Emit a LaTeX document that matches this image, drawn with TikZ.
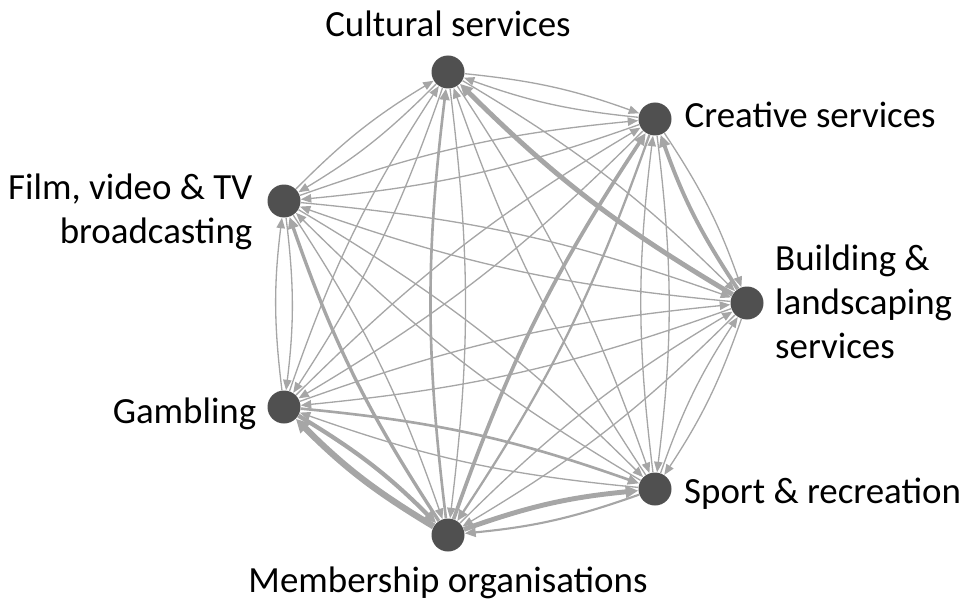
\documentclass[tikz,border=0pt]{standalone}
\usepackage{fontspec}
\setmainfont{Carlito}
\usepackage{tikz}
\usetikzlibrary{arrows.meta,positioning}
\definecolor{nodegray}{RGB}{80,80,80}
\definecolor{edgegray}{RGB}{166,166,166}

\begin{document}
\begin{tikzpicture}[
    vertex/.style={circle, fill=nodegray, draw=none, minimum size=0.66cm, inner sep=0pt},
    lbl/.style={font=\fontsize{21}{25}\selectfont, inner sep=0pt, text=black},
    link/.style={draw=edgegray, line width=#1, bend left=7,
                 -{Triangle[length=5.5pt 0.6, width=4pt 1]}},
    link/.default=0.75pt
]
\useasboundingbox (0,0) rectangle (19.32,-12.1);
% sectors
\node[vertex] (cult) at (8.96,-1.44) {};
\node[vertex] (creat) at (13.10,-2.38) {};
\node[vertex] (film) at (5.68,-4.02) {};
\node[vertex] (build) at (14.94,-6.06) {};
\node[vertex] (gamb) at (5.68,-8.14) {};
\node[vertex] (sport) at (13.10,-9.78) {};
\node[vertex] (memb) at (8.96,-10.70) {};
% labels
\node[lbl, above=0.37cm of cult] (cultlbl) {Cultural services};
\node[lbl, right=0.25cm of creat, yshift=0.08cm] (creatlbl) {Creative services};
\node[lbl, left=0.29cm of film, align=right, yshift=-0.22cm] (filmlbl) {Film, video \& TV\\broadcasting};
\node[lbl, right=0.22cm of build, align=left, yshift=0.03cm] (buildlbl) {Building \&\\landscaping\\services};
\node[lbl, left=0.21cm of gamb, yshift=-0.14cm] (gamblbl) {Gambling};
\node[lbl, right=0.24cm of sport, yshift=-0.1cm] (sportlbl) {Sport \& recreation};
\node[lbl, below=0.3cm of memb] (memblbl) {Membership organisations};
% flows, both ways
\draw[link] (cult) to (creat);  \draw[link] (creat) to (cult);
\draw[link] (cult) to (film);   \draw[link] (film) to (cult);
\draw[link] (cult) to (build);  \draw[link=2.8pt] (build) to (cult);
\draw[link] (cult) to (gamb);   \draw[link] (gamb) to (cult);
\draw[link] (cult) to (sport);  \draw[link] (sport) to (cult);
\draw[link] (cult) to (memb);   \draw[link=1.5pt] (memb) to (cult);
\draw[link] (creat) to (film);  \draw[link] (film) to (creat);
\draw[link] (creat) to (build); \draw[link=2.2pt] (build) to (creat);
\draw[link] (creat) to (gamb);  \draw[link] (gamb) to (creat);
\draw[link] (creat) to (sport); \draw[link] (sport) to (creat);
\draw[link=1.3pt] (creat) to (memb); \draw[link=2.1pt] (memb) to (creat);
\draw[link] (film) to (build);  \draw[link] (build) to (film);
\draw[link] (film) to (gamb);   \draw[link] (gamb) to (film);
\draw[link] (film) to (sport);  \draw[link] (sport) to (film);
\draw[link] (film) to (memb);   \draw[link=1.9pt] (memb) to (film);
\draw[link] (build) to (gamb);  \draw[link] (gamb) to (build);
\draw[link] (build) to (sport); \draw[link] (sport) to (build);
\draw[link] (build) to (memb);  \draw[link] (memb) to (build);
\draw[link=1.5pt] (gamb) to (sport); \draw[link] (sport) to (gamb);
\draw[link=2.4pt] (gamb) to (memb); \draw[link=3.6pt] (memb) to (gamb);
\draw[link=1.2pt] (sport) to (memb); \draw[link=2.8pt] (memb) to (sport);
\end{tikzpicture}
\end{document}
